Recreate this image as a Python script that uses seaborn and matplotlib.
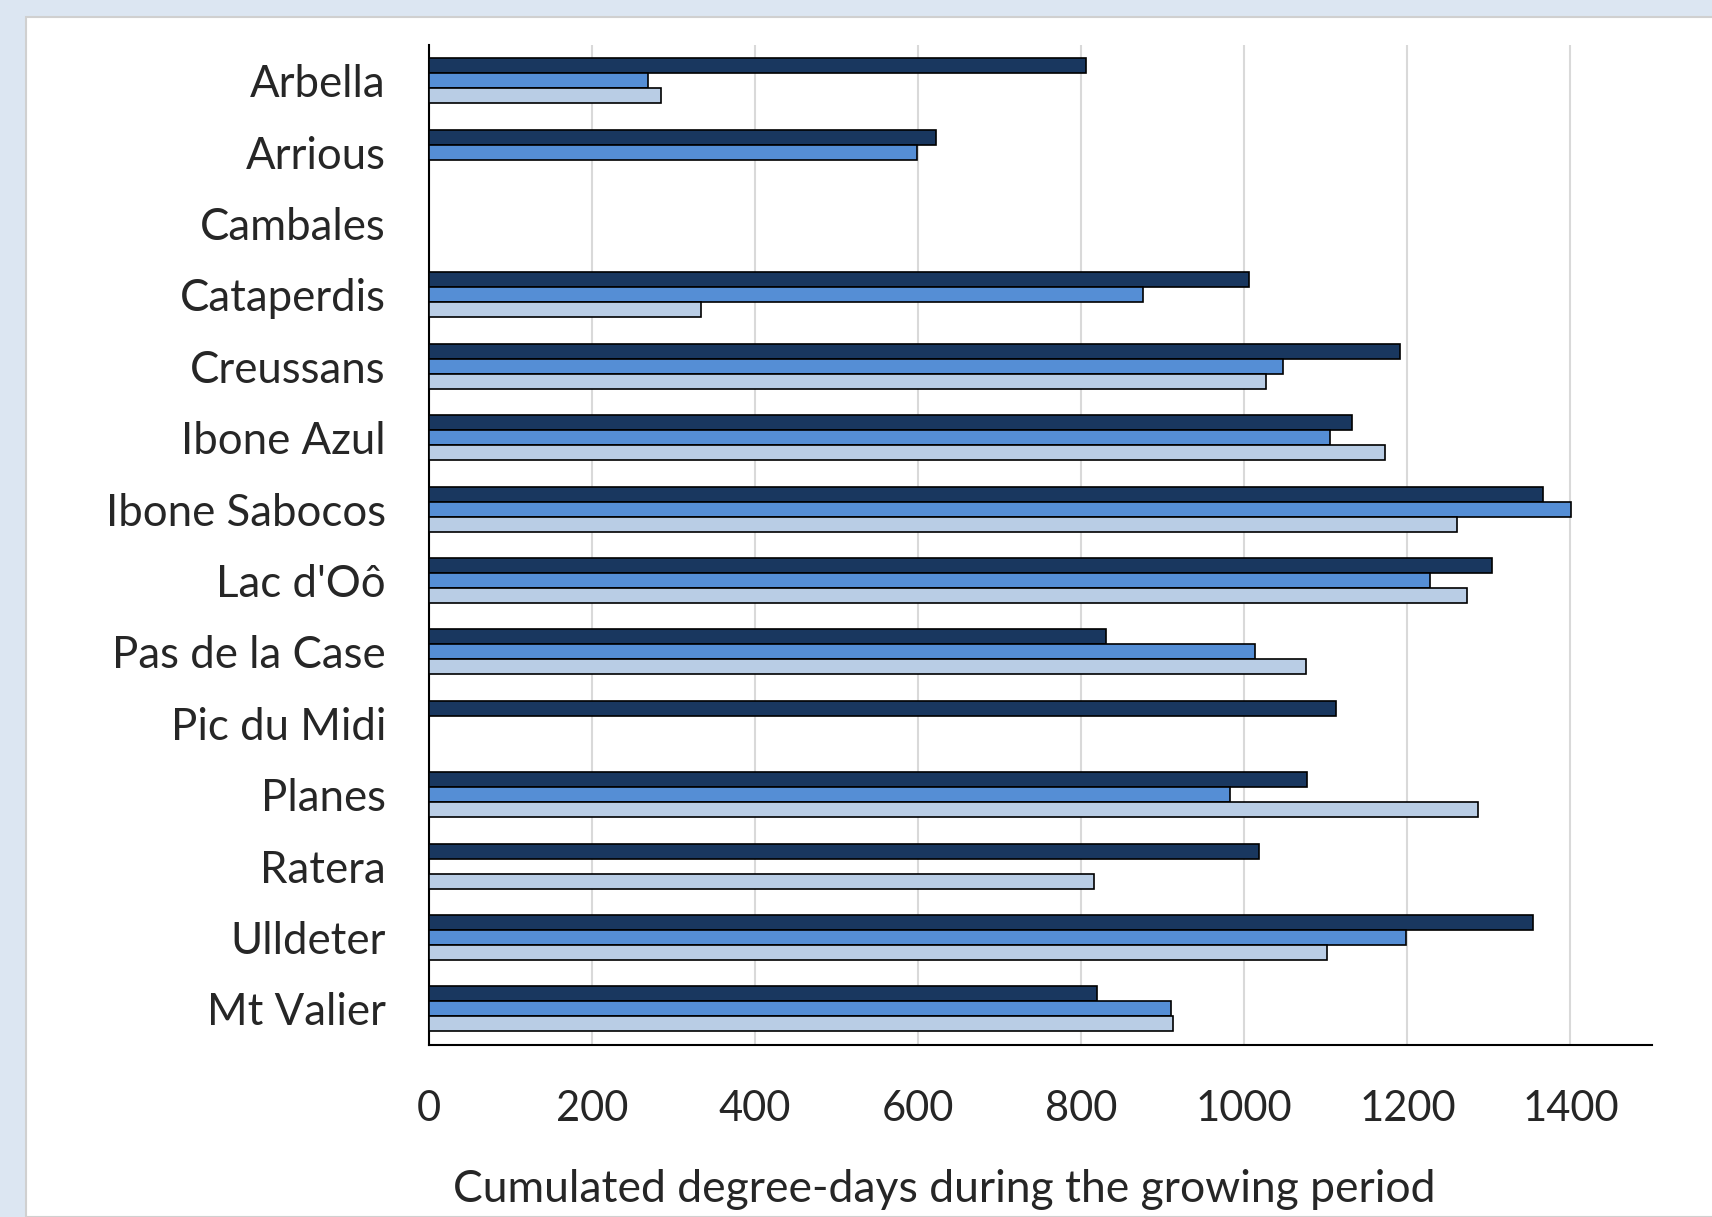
import numpy as np
import pandas as pd
import matplotlib
import matplotlib.pyplot as plt
import seaborn as sns
from matplotlib.patches import Rectangle

matplotlib.use("Agg")

# sites, top to bottom
sites = ["Arbella", "Arrious", "Cambales", "Cataperdis", "Creussans", "Ibone Azul",
         "Ibone Sabocos", "Lac d'Oô", "Pas de la Case", "Pic du Midi", "Planes",
         "Ratera", "Ulldeter", "Mt Valier"]

# cumulated degree-days, three series (nan = no data)
series_1 = [806, 622, np.nan, 1006, 1191, 1132, 1366, 1304, 830, 1112, 1077, 1018, 1354, 819]
series_2 = [269, 598, np.nan, 876, 1047, 1105, 1401, 1228, 1013, np.nan, 983, np.nan, 1198, 910]
series_3 = [285, np.nan, np.nan, 333, 1027, 1173, 1261, 1273, 1076, np.nan, 1287, 816, 1102, 913]

series_names = ["series 1", "series 2", "series 3"]
colors = ["#19375F", "#558ED5", "#B9CDE5"]

df = pd.DataFrame({
    "site": sites * 3,
    "series": np.repeat(series_names, len(sites)),
    "degree_days": series_1 + series_2 + series_3,
})

sns.set_style("white")
plt.rcParams["font.family"] = ["Lato", "DejaVu Sans"]

fig = plt.figure(figsize=(17.12, 12.17), dpi=100)
fig.patch.set_facecolor("#DCE6F2")
# white chart panel, behind the axes
fig.patches.append(Rectangle((26 / 1712, 0), 1, 1 - 17 / 1217, transform=fig.transFigure,
                             facecolor="white", edgecolor="#D0D0D0", linewidth=1.5, zorder=-5))

ax = fig.add_axes([429 / 1712, 1 - 1044.5 / 1217, (1652 - 429) / 1712, (1044.5 - 45) / 1217])
ax.set_facecolor("none")

sns.barplot(data=df, y="site", x="degree_days", hue="series", order=sites,
            hue_order=series_names, palette=colors, saturation=1, orient="h", width=0.63,
            edgecolor="black", linewidth=1.2, legend=False, ax=ax, zorder=3)

ax.set_xlim(0, 1500)
ax.set_xticks(range(0, 1401, 200))
ax.xaxis.grid(True, color="#D9D9D9", linewidth=1.5, zorder=0)
ax.yaxis.grid(False)
ax.set_axisbelow(True)

for side in ["top", "right"]:
    ax.spines[side].set_visible(False)
ax.spines["left"].set_color("black")
ax.spines["bottom"].set_color("black")
ax.spines["left"].set_linewidth(1.5)
ax.spines["bottom"].set_linewidth(1.5)

ax.tick_params(axis="both", length=0)
ax.tick_params(axis="y", labelsize=31.5, pad=31)
ax.tick_params(axis="x", labelsize=30, pad=33)
ax.set_ylabel("")
ax.set_xlabel("Cumulated degree-days during the growing period", fontsize=32)
ax.xaxis.set_label_coords(0.421, -0.125)

fig.savefig("out.png", dpi=100, facecolor=fig.get_facecolor())
